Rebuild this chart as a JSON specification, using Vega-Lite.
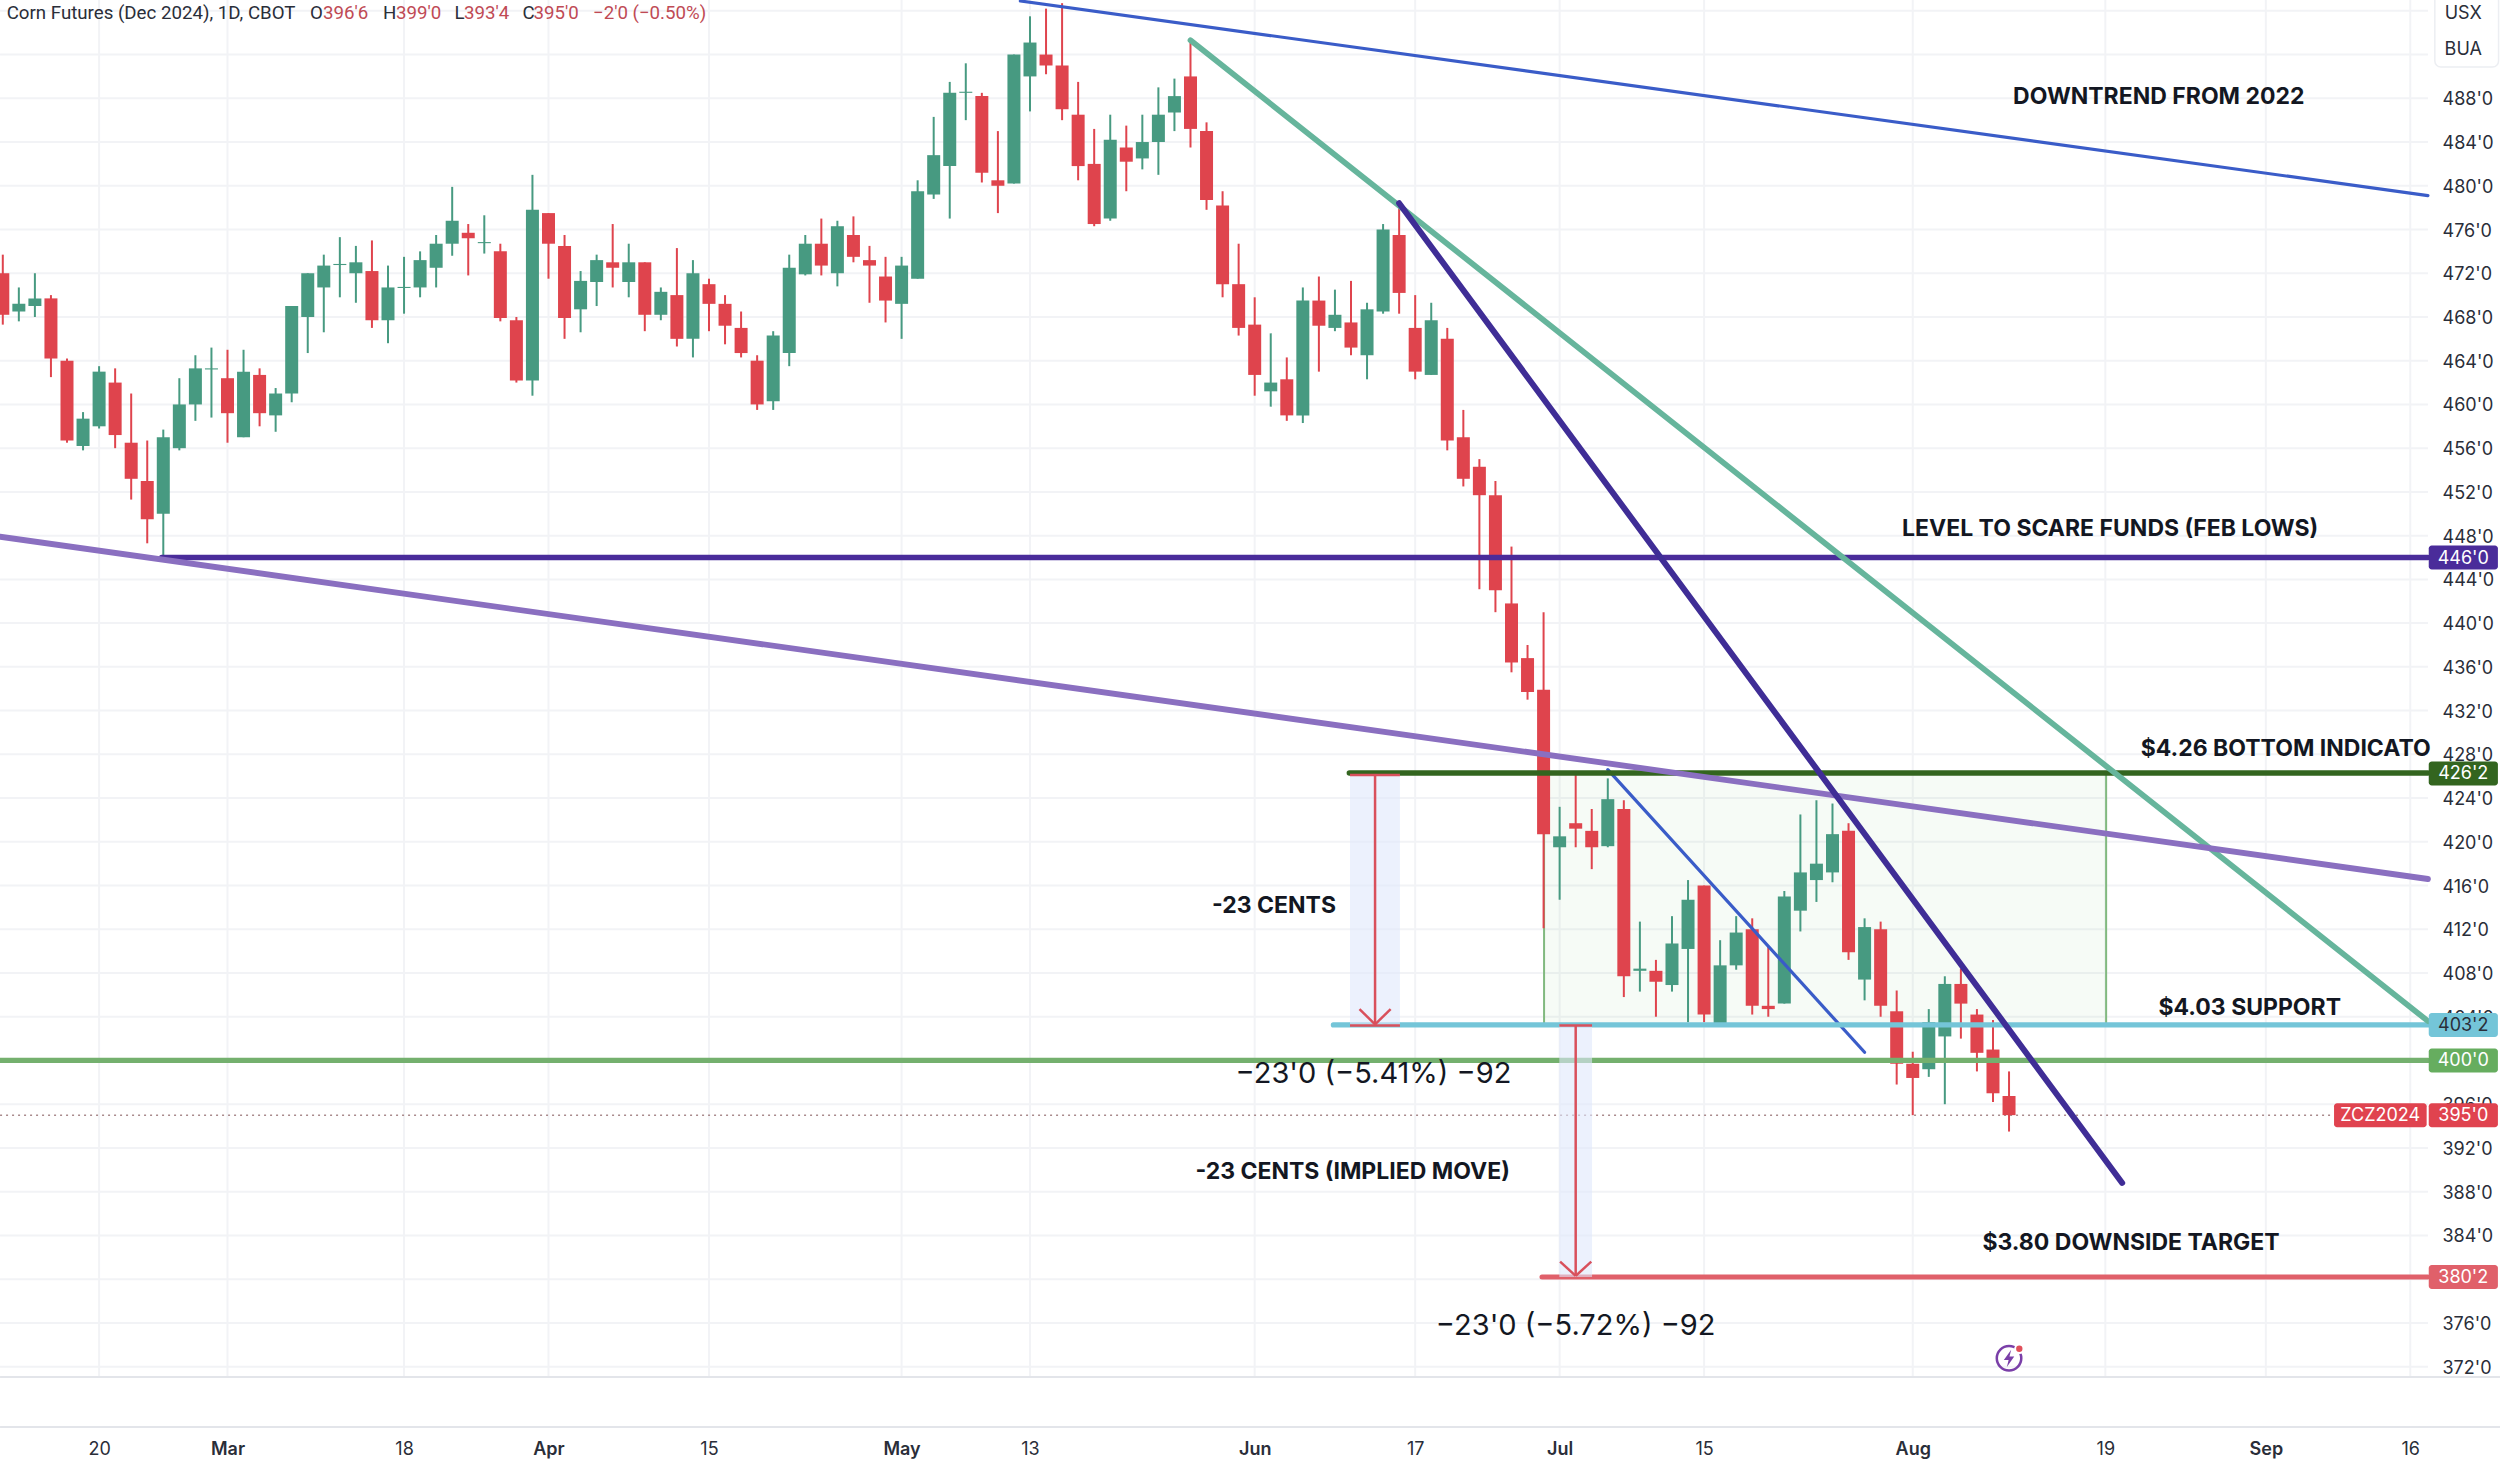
{
  "$schema": "https://vega.github.io/schema/vega-lite/v6.json",
  "width": 2500,
  "height": 1467,
  "padding": 0,
  "autosize": "none",
  "background": "white",
  "config": {"view": {"stroke": null}, "font": "Inter", "text": {"font": "Inter"}},
  "datasets": {
    "candles": [
      {"bar":0,"open":472.0,"high":473.7,"low":467.3,"close":468.2},
      {"bar":1,"open":468.5,"high":470.7,"low":467.6,"close":469.2},
      {"bar":2,"open":469.0,"high":472.0,"low":468.0,"close":469.7},
      {"bar":3,"open":469.7,"high":470.0,"low":462.5,"close":464.2},
      {"bar":4,"open":464.0,"high":464.2,"low":456.5,"close":456.7},
      {"bar":5,"open":456.2,"high":459.3,"low":455.8,"close":458.7},
      {"bar":6,"open":458.0,"high":463.5,"low":457.8,"close":463.0},
      {"bar":7,"open":462.0,"high":463.3,"low":456.0,"close":457.2},
      {"bar":8,"open":456.5,"high":461.0,"low":451.3,"close":453.2},
      {"bar":9,"open":453.0,"high":456.7,"low":447.3,"close":449.5},
      {"bar":10,"open":450.0,"high":457.7,"low":446.1,"close":457.0},
      {"bar":11,"open":456.0,"high":462.4,"low":455.8,"close":460.0},
      {"bar":12,"open":460.0,"high":464.5,"low":458.5,"close":463.3},
      {"bar":13,"open":463.2,"high":465.2,"low":458.8,"close":463.3},
      {"bar":14,"open":462.4,"high":465.0,"low":456.5,"close":459.2},
      {"bar":15,"open":457.0,"high":465.0,"low":457.0,"close":463.0},
      {"bar":16,"open":462.7,"high":463.3,"low":458.0,"close":459.2},
      {"bar":17,"open":459.0,"high":461.5,"low":457.5,"close":461.0},
      {"bar":18,"open":461.0,"high":469.0,"low":460.2,"close":469.0},
      {"bar":19,"open":468.0,"high":472.0,"low":464.7,"close":472.0},
      {"bar":20,"open":470.7,"high":473.7,"low":466.6,"close":472.7},
      {"bar":21,"open":472.75,"high":475.3,"low":469.8,"close":472.85},
      {"bar":22,"open":472.0,"high":474.5,"low":469.3,"close":473.0},
      {"bar":23,"open":472.2,"high":475.0,"low":467.0,"close":467.7},
      {"bar":24,"open":467.7,"high":472.7,"low":465.6,"close":470.7},
      {"bar":25,"open":470.65,"high":473.5,"low":468.3,"close":470.75},
      {"bar":26,"open":470.7,"high":474.0,"low":469.8,"close":473.2},
      {"bar":27,"open":472.5,"high":475.5,"low":470.7,"close":474.7},
      {"bar":28,"open":474.7,"high":479.9,"low":473.6,"close":476.8},
      {"bar":29,"open":475.7,"high":476.5,"low":471.8,"close":475.2},
      {"bar":30,"open":474.75,"high":477.3,"low":473.8,"close":474.85},
      {"bar":31,"open":474.0,"high":474.7,"low":467.6,"close":467.9},
      {"bar":32,"open":467.7,"high":468.0,"low":462.0,"close":462.2},
      {"bar":33,"open":462.2,"high":481.0,"low":460.8,"close":477.8},
      {"bar":34,"open":477.5,"high":477.5,"low":471.5,"close":474.7},
      {"bar":35,"open":474.5,"high":475.5,"low":466.0,"close":467.9},
      {"bar":36,"open":468.7,"high":472.2,"low":466.6,"close":471.3},
      {"bar":37,"open":471.2,"high":473.7,"low":469.0,"close":473.2},
      {"bar":38,"open":473.0,"high":476.5,"low":470.7,"close":472.5},
      {"bar":39,"open":471.2,"high":474.7,"low":469.8,"close":473.0},
      {"bar":40,"open":473.0,"high":473.0,"low":466.7,"close":468.2},
      {"bar":41,"open":468.2,"high":470.7,"low":467.7,"close":470.3},
      {"bar":42,"open":470.0,"high":474.3,"low":465.3,"close":466.0},
      {"bar":43,"open":466.0,"high":473.2,"low":464.3,"close":472.0},
      {"bar":44,"open":471.0,"high":471.5,"low":466.7,"close":469.2},
      {"bar":45,"open":469.2,"high":470.0,"low":465.5,"close":467.2},
      {"bar":46,"open":467.0,"high":468.5,"low":464.3,"close":464.7},
      {"bar":47,"open":464.0,"high":464.5,"low":459.5,"close":460.0},
      {"bar":48,"open":460.3,"high":466.7,"low":459.5,"close":466.3},
      {"bar":49,"open":464.7,"high":473.7,"low":463.5,"close":472.5},
      {"bar":50,"open":471.9,"high":475.5,"low":471.8,"close":474.7},
      {"bar":51,"open":474.7,"high":477.0,"low":471.8,"close":472.7},
      {"bar":52,"open":472.0,"high":476.8,"low":470.8,"close":476.3},
      {"bar":53,"open":475.5,"high":477.2,"low":473.0,"close":473.5},
      {"bar":54,"open":473.2,"high":474.5,"low":469.3,"close":472.7},
      {"bar":55,"open":471.7,"high":473.5,"low":467.5,"close":469.5},
      {"bar":56,"open":469.2,"high":473.5,"low":466.0,"close":472.7},
      {"bar":57,"open":471.5,"high":480.5,"low":471.5,"close":479.5},
      {"bar":58,"open":479.2,"high":486.3,"low":478.8,"close":482.8},
      {"bar":59,"open":481.8,"high":489.5,"low":477.0,"close":488.5},
      {"bar":60,"open":488.5,"high":491.2,"low":486.0,"close":488.6},
      {"bar":61,"open":488.2,"high":488.5,"low":480.3,"close":481.2},
      {"bar":62,"open":480.5,"high":485.0,"low":477.5,"close":480.0},
      {"bar":63,"open":480.2,"high":492.0,"low":480.2,"close":492.0},
      {"bar":64,"open":490.0,"high":495.5,"low":486.8,"close":493.1},
      {"bar":65,"open":492.0,"high":496.2,"low":490.2,"close":491.0},
      {"bar":66,"open":491.0,"high":496.7,"low":486.0,"close":487.0},
      {"bar":67,"open":486.5,"high":489.5,"low":480.5,"close":481.8},
      {"bar":68,"open":482.0,"high":485.2,"low":476.3,"close":476.5},
      {"bar":69,"open":477.0,"high":486.5,"low":476.8,"close":484.2},
      {"bar":70,"open":483.5,"high":485.5,"low":479.5,"close":482.2},
      {"bar":71,"open":482.5,"high":486.5,"low":481.5,"close":484.0},
      {"bar":72,"open":484.0,"high":489.0,"low":481.0,"close":486.5},
      {"bar":73,"open":486.7,"high":489.8,"low":485.0,"close":488.2},
      {"bar":74,"open":490.0,"high":493.3,"low":483.5,"close":485.2},
      {"bar":75,"open":485.0,"high":485.8,"low":477.8,"close":478.7},
      {"bar":76,"open":478.2,"high":479.5,"low":469.8,"close":471.0},
      {"bar":77,"open":471.0,"high":474.7,"low":466.3,"close":467.0},
      {"bar":78,"open":467.3,"high":469.8,"low":460.8,"close":462.7},
      {"bar":79,"open":461.2,"high":466.5,"low":459.8,"close":462.0},
      {"bar":80,"open":462.3,"high":464.3,"low":458.5,"close":459.0},
      {"bar":81,"open":459.0,"high":470.7,"low":458.3,"close":469.5},
      {"bar":82,"open":469.5,"high":471.7,"low":463.0,"close":467.2},
      {"bar":83,"open":467.0,"high":470.5,"low":466.7,"close":468.2},
      {"bar":84,"open":467.5,"high":471.3,"low":464.5,"close":465.2},
      {"bar":85,"open":464.5,"high":469.3,"low":462.3,"close":468.7},
      {"bar":86,"open":468.5,"high":476.5,"low":468.3,"close":476.0},
      {"bar":87,"open":475.5,"high":478.4,"low":468.3,"close":470.2},
      {"bar":88,"open":467.0,"high":470.0,"low":462.3,"close":463.0},
      {"bar":89,"open":462.7,"high":469.3,"low":462.7,"close":467.7},
      {"bar":90,"open":466.0,"high":467.0,"low":455.8,"close":456.7},
      {"bar":91,"open":457.0,"high":459.5,"low":452.5,"close":453.2},
      {"bar":92,"open":454.3,"high":455.0,"low":443.1,"close":451.7},
      {"bar":93,"open":451.7,"high":453.0,"low":441.0,"close":443.0},
      {"bar":94,"open":441.8,"high":447.0,"low":435.5,"close":436.4},
      {"bar":95,"open":436.8,"high":438.0,"low":433.0,"close":433.7},
      {"bar":96,"open":433.9,"high":441.0,"low":412.1,"close":420.7},
      {"bar":97,"open":419.5,"high":423.2,"low":414.7,"close":420.5},
      {"bar":98,"open":421.7,"high":426.1,"low":419.5,"close":421.2},
      {"bar":99,"open":421.0,"high":423.0,"low":417.5,"close":419.5},
      {"bar":100,"open":419.6,"high":425.8,"low":419.5,"close":423.9},
      {"bar":101,"open":423.0,"high":423.8,"low":405.8,"close":407.7},
      {"bar":102,"open":408.2,"high":412.7,"low":406.3,"close":408.4},
      {"bar":103,"open":408.2,"high":409.2,"low":404.0,"close":407.2},
      {"bar":104,"open":406.9,"high":413.2,"low":406.3,"close":410.7},
      {"bar":105,"open":410.2,"high":416.5,"low":403.5,"close":414.7},
      {"bar":106,"open":416.0,"high":416.0,"low":403.5,"close":404.2},
      {"bar":107,"open":403.2,"high":411.0,"low":403.2,"close":408.7},
      {"bar":108,"open":408.7,"high":413.2,"low":408.3,"close":411.7},
      {"bar":109,"open":412.0,"high":413.0,"low":404.2,"close":405.0},
      {"bar":110,"open":405.0,"high":410.4,"low":404.0,"close":404.7},
      {"bar":111,"open":405.2,"high":415.5,"low":405.2,"close":415.0},
      {"bar":112,"open":413.7,"high":422.5,"low":411.8,"close":417.2},
      {"bar":113,"open":416.5,"high":423.8,"low":414.5,"close":418.0},
      {"bar":114,"open":417.2,"high":423.5,"low":416.3,"close":420.7},
      {"bar":115,"open":421.0,"high":421.7,"low":409.2,"close":409.9},
      {"bar":116,"open":407.4,"high":413.0,"low":405.5,"close":412.2},
      {"bar":117,"open":412.0,"high":412.7,"low":404.0,"close":405.0},
      {"bar":118,"open":404.5,"high":406.4,"low":397.8,"close":399.7},
      {"bar":119,"open":399.7,"high":400.8,"low":395.0,"close":398.4},
      {"bar":120,"open":399.2,"high":404.7,"low":398.5,"close":403.5},
      {"bar":121,"open":402.2,"high":407.7,"low":396.0,"close":407.0},
      {"bar":122,"open":407.0,"high":408.4,"low":402.0,"close":405.2},
      {"bar":123,"open":404.2,"high":404.7,"low":399.0,"close":400.7},
      {"bar":124,"open":401.0,"high":403.7,"low":396.2,"close":397.0},
      {"bar":125,"open":396.75,"high":399.0,"low":393.5,"close":395.0}
    ],
    "lines": [
      {"line":"target","bar":95.9,"bar2":151.1,"price":380.2,"price2":380.2},
      {"line":"support","bar":82.9,"bar2":151.1,"price":403.25,"price2":403.25},
      {"line":"level400","bar":-0.17,"bar2":151.1,"price":400,"price2":400},
      {"line":"funds","bar":9.9,"bar2":151.1,"price":446,"price2":446},
      {"line":"bottom","bar":83.9,"bar2":151.1,"price":426.3,"price2":426.3},
      {"line":"teal","bar":74,"bar2":151.1,"price":493.3,"price2":403.6},
      {"line":"purple","bar":-0.17,"bar2":151.1,"price":447.9,"price2":416.6},
      {"line":"indigo","bar":87,"bar2":132.05,"price":478.4,"price2":388.8}
    ],
    "blueLines": [
      {"bar":100,"bar2":116,"price":426.6,"price2":400.75},
      {"bar":63.4,"bar2":151.1,"price":496.9,"price2":479.1}
    ],
    "arrows": [
      {"bar":83.94,"bar2":87.05,"price":426.1,"price2":426.1},
      {"bar":83.94,"bar2":87.05,"price":403.2,"price2":403.2},
      {"bar":85.5,"bar2":85.5,"price":426.1,"price2":403.3},
      {"bar":85.5,"bar2":84.53,"price":403.3,"price2":404.7},
      {"bar":85.5,"bar2":86.47,"price":403.3,"price2":404.7},
      {"bar":96.98,"bar2":99.02,"price":403.2,"price2":403.2},
      {"bar":98,"bar2":98,"price":403.2,"price2":380.3},
      {"bar":98,"bar2":97.03,"price":380.3,"price2":381.6},
      {"bar":98,"bar2":98.97,"price":380.3,"price2":381.6}
    ],
    "tints": [
      {"bar":83.94,"bar2":87.05,"price":426.1,"price2":403.25},
      {"bar":96.98,"bar2":99.02,"price":403.25,"price2":380.2}
    ],
    "gridPrices": [
      {"bar":-0.17,"bar2":151.1,"price":372},{"bar":-0.17,"bar2":151.1,"price":376},{"bar":-0.17,"bar2":151.1,"price":380},
      {"bar":-0.17,"bar2":151.1,"price":384},{"bar":-0.17,"bar2":151.1,"price":388},{"bar":-0.17,"bar2":151.1,"price":392},
      {"bar":-0.17,"bar2":151.1,"price":396},{"bar":-0.17,"bar2":151.1,"price":400},{"bar":-0.17,"bar2":151.1,"price":404},
      {"bar":-0.17,"bar2":151.1,"price":408},{"bar":-0.17,"bar2":151.1,"price":412},{"bar":-0.17,"bar2":151.1,"price":416},
      {"bar":-0.17,"bar2":151.1,"price":420},{"bar":-0.17,"bar2":151.1,"price":424},{"bar":-0.17,"bar2":151.1,"price":428},
      {"bar":-0.17,"bar2":151.1,"price":432},{"bar":-0.17,"bar2":151.1,"price":436},{"bar":-0.17,"bar2":151.1,"price":440},
      {"bar":-0.17,"bar2":151.1,"price":444},{"bar":-0.17,"bar2":151.1,"price":448},{"bar":-0.17,"bar2":151.1,"price":452},
      {"bar":-0.17,"bar2":151.1,"price":456},{"bar":-0.17,"bar2":151.1,"price":460},{"bar":-0.17,"bar2":151.1,"price":464},
      {"bar":-0.17,"bar2":151.1,"price":468},{"bar":-0.17,"bar2":151.1,"price":472},{"bar":-0.17,"bar2":151.1,"price":476},
      {"bar":-0.17,"bar2":151.1,"price":480},{"bar":-0.17,"bar2":151.1,"price":484},{"bar":-0.17,"bar2":151.1,"price":488},
      {"bar":-0.17,"bar2":151.1,"price":492},{"bar":-0.17,"bar2":151.1,"price":496}
    ],
    "gridBars": [
      {"bar":6,"price":371.05,"price2":496.99},{"bar":14,"price":371.05,"price2":496.99},{"bar":25,"price":371.05,"price2":496.99},
      {"bar":34,"price":371.05,"price2":496.99},{"bar":44,"price":371.05,"price2":496.99},{"bar":56,"price":371.05,"price2":496.99},
      {"bar":64,"price":371.05,"price2":496.99},{"bar":78,"price":371.05,"price2":496.99},{"bar":88,"price":371.05,"price2":496.99},
      {"bar":97,"price":371.05,"price2":496.99},{"bar":106,"price":371.05,"price2":496.99},{"bar":119,"price":371.05,"price2":496.99},
      {"bar":131,"price":371.05,"price2":496.99},{"bar":141,"price":371.05,"price2":496.99},{"bar":150,"price":371.05,"price2":496.99}
    ],
    "notes": [
      {"bar":134.33,"price":488.1,"label":"DOWNTREND FROM 2022"},
      {"bar":131.3,"price":448.65,"label":"LEVEL TO SCARE FUNDS (FEB LOWS)"},
      {"bar":140,"price":404.8,"label":"$4.03 SUPPORT"},
      {"bar":79.2,"price":414.15,"label":"-23 CENTS"},
      {"bar":84.1,"price":389.77,"label":"-23 CENTS (IMPLIED MOVE)"},
      {"bar":132.6,"price":383.34,"label":"$3.80 DOWNSIDE TARGET"}
    ],
    "measures": [
      {"bar":85.4,"price":398.8,"label":"−23'0 (−5.41%) −92"},
      {"bar":98,"price":375.75,"label":"−23'0 (−5.72%) −92"}
    ],
    "headerDark": [
      {"bar":0.24,"price":495.79,"label":"Corn Futures (Dec 2024), 1D, CBOT"},
      {"bar":19.14,"price":495.79,"label":"O"},
      {"bar":23.69,"price":495.79,"label":"H"},
      {"bar":28.14,"price":495.79,"label":"L"},
      {"bar":32.38,"price":495.79,"label":"C"}
    ],
    "headerRed": [
      {"bar":19.95,"price":495.79,"label":"396'6"},
      {"bar":24.5,"price":495.79,"label":"399'0"},
      {"bar":28.74,"price":495.79,"label":"393'4"},
      {"bar":33.07,"price":495.79,"label":"395'0"},
      {"bar":36.77,"price":495.79,"label":"−2'0 (−0.50%)"}
    ],
    "tags": [
      {"tag":"funds","bar":151.15,"bar2":155.46,"mid":153.3,"price":446,"label":"446'0"},
      {"tag":"bottom","bar":151.15,"bar2":155.46,"mid":153.3,"price":426.25,"label":"426'2"},
      {"tag":"support","bar":151.15,"bar2":155.46,"mid":153.3,"price":403.25,"label":"403'2"},
      {"tag":"level400","bar":151.15,"bar2":155.46,"mid":153.3,"price":400,"label":"400'0"},
      {"tag":"last","bar":145.25,"bar2":151.02,"mid":148.13,"price":395,"label":"ZCZ2024"},
      {"tag":"last","bar":151.15,"bar2":155.46,"mid":153.3,"price":395,"label":"395'0"},
      {"tag":"target","bar":151.15,"bar2":155.46,"mid":153.3,"price":380.2,"label":"380'2"}
    ]
  },
  "layer": [
    {
      "data": {"name":"gridPrices"},
      "mark": {"type":"rule","stroke":"#f2f3f6","strokeWidth":2},
      "encoding": {
        "x": {"field":"bar","type":"quantitative"},
        "x2": {"field":"bar2"},
        "y": {"field":"price","type":"quantitative"}
      }
    },
    {
      "data": {"name":"gridBars"},
      "mark": {"type":"rule","stroke":"#f2f3f6","strokeWidth":2},
      "encoding": {
        "x": {"field":"bar","type":"quantitative"},
        "y": {"field":"price","type":"quantitative"},
        "y2": {"field":"price2"}
      }
    },
    {
      "data": {"values": [{"bar":96.03,"bar2":131.05,"price":426.3,"price2":403.25}]},
      "mark": {"type":"rect","fill":"#4caf50","fillOpacity":0.05,"stroke":"#81b97f","strokeWidth":2},
      "encoding": {
        "x": {
          "field":"bar","type":"quantitative",
          "scale": {"domain":[-0.174,155.59],"nice":false,"zero":false,"padding":0},
          "axis": {
            "title":null,"orient":"bottom","offset":-18,"values":[6,14,25,34,44,56,64,78,88,97,106,119,131,141,150],
            "labelExpr":"{'6':'20','14':'Mar','25':'18','34':'Apr','44':'15','56':'May','64':'13','78':'Jun','88':'17','97':'Jul','106':'15','119':'Aug','131':'19','141':'Sep','150':'16'}[datum.value]",
            "domain":false,"ticks":false,"labelPadding":0,"labelBaseline":"middle","labelFontSize":18,"labelColor":"#2a2e39","labelOverlap":false,"labelBound":false,"labelFlush":false,
            "labelFontWeight":{"condition":{"test":"indexof([14,34,56,78,97,119,141],datum.value)>=0","value":600},"value":400},
            "grid":false
          }
        },
        "x2": {"field":"bar2"},
        "y": {
          "field":"price","type":"quantitative",
          "scale": {"domain":[362.82,496.99],"nice":false,"zero":false,"padding":0},
          "axis": {
            "title":null,"orient":"right","offset":-72,"values":[372,376,380,384,388,392,396,400,404,408,412,416,420,424,428,432,436,440,444,448,452,456,460,464,468,472,476,480,484,488],
            "labelExpr":"datum.value+\"'0\"",
            "domain":false,"ticks":false,"labelPadding":14,"labelAlign":"left","labelBaseline":"middle","labelOffset":1.5,"labelFontSize":18,"labelColor":"#2a2e39","labelOverlap":false,"labelBound":false,"labelFlush":false,
            "grid":false
          }
        },
        "y2": {"field":"price2"}
      }
    },
    {
      "data": {"values": [{"bar":-0.17,"bar2":145.25,"price":395}]},
      "mark": {"type":"rule","stroke":"#a98a8c","strokeWidth":1.5,"strokeDash":[2,4]},
      "encoding": {
        "x": {"field":"bar","type":"quantitative"},
        "x2": {"field":"bar2"},
        "y": {"field":"price","type":"quantitative"}
      }
    },
    {
      "data": {"name":"candles"},
      "mark": {"type":"rule","strokeWidth":2},
      "encoding": {
        "x": {"field":"bar","type":"quantitative"},
        "y": {"field":"low","type":"quantitative"},
        "y2": {"field":"high"},
        "color": {"condition":{"test":"datum.close >= datum.open","value":"#479a81"},"value":"#df444d"}
      }
    },
    {
      "data": {"name":"candles"},
      "mark": {"type":"bar","width":13,"orient":"vertical"},
      "encoding": {
        "x": {"field":"bar","type":"quantitative"},
        "y": {"field":"open","type":"quantitative"},
        "y2": {"field":"close"},
        "color": {"condition":{"test":"datum.close >= datum.open","value":"#479a81"},"value":"#df444d"}
      }
    },
    {
      "data": {"name":"blueLines"},
      "mark": {"type":"rule","stroke":"#3a5cc8","strokeWidth":3.2,"strokeCap":"round"},
      "encoding": {
        "x": {"field":"bar","type":"quantitative"},
        "x2": {"field":"bar2"},
        "y": {"field":"price","type":"quantitative"},
        "y2": {"field":"price2"}
      }
    },
    {
      "data": {"name":"lines"},
      "mark": {"type":"rule","strokeCap":"round"},
      "encoding": {
        "x": {"field":"bar","type":"quantitative"},
        "x2": {"field":"bar2"},
        "y": {"field":"price","type":"quantitative"},
        "y2": {"field":"price2"},
        "color": {
          "field":"line","type":"nominal","legend":null,
          "scale":{"domain":["target","support","level400","funds","bottom","teal","purple","indigo"],
                   "range":["#e0606a","#74c5d8","#74b06e","#4a2c9a","#33651f","#66b59c","#8a6fc0","#3f2d96"]}
        },
        "strokeWidth": {
          "field":"line","type":"nominal","legend":null,
          "scale":{"domain":["target","support","level400","funds","bottom","teal","purple","indigo"],
                   "range":[5,6,5,6,6,4,4,4.5]}
        }
      }
    },
    {
      "data": {"name":"tints"},
      "mark": {"type":"rect","fill":"#dfe8fb","opacity":0.6},
      "encoding": {
        "x": {"field":"bar","type":"quantitative"},
        "x2": {"field":"bar2"},
        "y": {"field":"price","type":"quantitative"},
        "y2": {"field":"price2"}
      }
    },
    {
      "data": {"name":"arrows"},
      "mark": {"type":"rule","stroke":"#d9505c","strokeWidth":2.5},
      "encoding": {
        "x": {"field":"bar","type":"quantitative"},
        "x2": {"field":"bar2"},
        "y": {"field":"price","type":"quantitative"},
        "y2": {"field":"price2"}
      }
    },
    {
      "data": {"name":"notes"},
      "mark": {"type":"text","fontSize":23,"fontWeight":700,"color":"#131722","align":"center","baseline":"middle"},
      "encoding": {
        "x": {"field":"bar","type":"quantitative"},
        "y": {"field":"price","type":"quantitative"},
        "text": {"field":"label"}
      }
    },
    {
      "data": {"values": [{"bar":133.2,"price":428.52,"label":"$4.26 BOTTOM INDICATOR"}]},
      "mark": {"type":"text","fontSize":23,"fontWeight":700,"color":"#131722","align":"left","baseline":"middle","limit":292,"ellipsis":"\u200b"},
      "encoding": {
        "x": {"field":"bar","type":"quantitative"},
        "y": {"field":"price","type":"quantitative"},
        "text": {"field":"label"}
      }
    },
    {
      "data": {"name":"measures"},
      "mark": {"type":"text","fontSize":29,"color":"#131722","align":"center","baseline":"middle"},
      "encoding": {
        "x": {"field":"bar","type":"quantitative"},
        "y": {"field":"price","type":"quantitative"},
        "text": {"field":"label"}
      }
    },
    {
      "data": {"name":"headerDark"},
      "mark": {"type":"text","font":"Roboto","fontSize":18.7,"color":"#2a2e39","align":"left","baseline":"middle"},
      "encoding": {
        "x": {"field":"bar","type":"quantitative"},
        "y": {"field":"price","type":"quantitative"},
        "text": {"field":"label"}
      }
    },
    {
      "data": {"name":"headerRed"},
      "mark": {"type":"text","font":"Roboto","fontSize":18.7,"color":"#bf4a55","align":"left","baseline":"middle"},
      "encoding": {
        "x": {"field":"bar","type":"quantitative"},
        "y": {"field":"price","type":"quantitative"},
        "text": {"field":"label"}
      }
    },
    {
      "data": {"values": [{"bar":-0.17,"bar2":155.6,"price":371.05},{"bar":-0.17,"bar2":155.6,"price":366.48}]},
      "mark": {"type":"rule","stroke":"#e3e5ea","strokeWidth":2},
      "encoding": {
        "x": {"field":"bar","type":"quantitative"},
        "x2": {"field":"bar2"},
        "y": {"field":"price","type":"quantitative"}
      }
    },
    {
      "data": {"values": [{"bar":151.53,"bar2":155.5,"price":497.5,"price2":490.86}]},
      "mark": {"type":"rect","fill":"white","stroke":"#eceef2","strokeWidth":1.5,"cornerRadius":6},
      "encoding": {
        "x": {"field":"bar","type":"quantitative"},
        "x2": {"field":"bar2"},
        "y": {"field":"price","type":"quantitative"},
        "y2": {"field":"price2"}
      }
    },
    {
      "data": {"values": [{"bar":153.3,"price":495.7,"label":"USX"},{"bar":153.3,"price":492.4,"label":"BUA"}]},
      "mark": {"type":"text","fontSize":18,"color":"#2a2e39","align":"center","baseline":"middle"},
      "encoding": {
        "x": {"field":"bar","type":"quantitative"},
        "y": {"field":"price","type":"quantitative"},
        "text": {"field":"label"}
      }
    },
    {
      "data": {"name":"tags"},
      "mark": {"type":"bar","height":24,"cornerRadius":3,"orient":"horizontal"},
      "encoding": {
        "x": {"field":"bar","type":"quantitative"},
        "x2": {"field":"bar2"},
        "y": {"field":"price","type":"quantitative"},
        "color": {
          "field":"tag","type":"nominal","legend":null,
          "scale":{"domain":["funds","bottom","support","level400","last","target"],
                   "range":["#4a2c9a","#33651f","#74c5d8","#66ad5f","#e0434f","#e0606a"]}
        }
      }
    },
    {
      "data": {"name":"tags"},
      "mark": {"type":"text","fontSize":18,"align":"center","baseline":"middle","dy":1},
      "encoding": {
        "x": {"field":"mid","type":"quantitative"},
        "y": {"field":"price","type":"quantitative"},
        "text": {"field":"label"},
        "color": {"condition":{"test":"datum.tag == 'support'","value":"#2a2e39"},"value":"#ffffff"}
      }
    },
    {
      "data": {"values": [{"bar":125,"price":372.76}]},
      "mark": {"type":"point","shape":"circle","size":600,"filled":false,"stroke":"#7a3fa8","strokeWidth":2.5,"opacity":1},
      "encoding": {
        "x": {"field":"bar","type":"quantitative"},
        "y": {"field":"price","type":"quantitative"}
      }
    },
    {
      "data": {"values": [{"bar":125,"price":372.76}]},
      "mark": {"type":"point","shape":"M0.25,-1 L-0.6,0.2 L-0.05,0.2 L-0.25,1 L0.6,-0.2 L0.05,-0.2 Z","size":300,"filled":true,"fill":"#7a3fa8","opacity":1},
      "encoding": {
        "x": {"field":"bar","type":"quantitative"},
        "y": {"field":"price","type":"quantitative"}
      }
    },
    {
      "data": {"values": [{"bar":125.64,"price":373.63}]},
      "mark": {"type":"point","shape":"circle","size":70,"filled":true,"fill":"#e0505a","stroke":"white","strokeWidth":2,"opacity":1},
      "encoding": {
        "x": {"field":"bar","type":"quantitative"},
        "y": {"field":"price","type":"quantitative"}
      }
    }
  ],
  "resolve": {"scale": {"color":"independent","strokeWidth":"independent"}}
}
